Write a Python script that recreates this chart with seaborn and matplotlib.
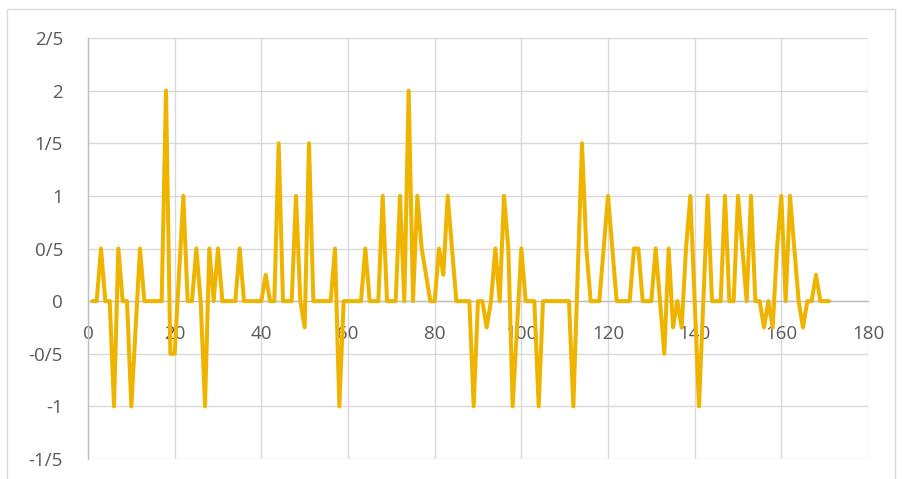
import matplotlib
matplotlib.use("Agg")
import matplotlib.pyplot as plt
import matplotlib.patches as patches
from matplotlib.ticker import FuncFormatter, MultipleLocator
import seaborn as sns
import pandas as pd

# series values, one per index 1..171
values = [
    0, 0, 0.5, 0, 0, -1, 0.5, 0, 0, -1,
    -0.25, 0.5, 0, 0, 0, 0, 0, 2, -0.5, -0.5,
    0.25, 1, 0, 0, 0.5, 0, -1, 0.5, 0, 0.5,
    0, 0, 0, 0, 0.5, 0, 0, 0, 0, 0,
    0.25, 0, 0, 1.5, 0, 0, 0, 1, 0, -0.25,
    1.5, 0, 0, 0, 0, 0, 0.5, -1, 0, 0,
    0, 0, 0, 0.5, 0, 0, 0, 1, 0, 0,
    0, 1, 0, 2, 0, 1, 0.5, 0.25, 0, 0,
    0.5, 0.25, 1, 0.5, 0, 0, 0, 0, -1, 0,
    0, -0.25, 0, 0.5, 0, 1, 0.5, -1, -0.25, 0.5,
    0, 0, 0, -1, 0, 0, 0, 0, 0, 0,
    0, -1, 0.25, 1.5, 0.5, 0, 0, 0, 0.5, 1,
    0.5, 0, 0, 0, 0, 0.5, 0.5, 0, 0, 0,
    0.5, 0, -0.5, 0.5, -0.25, 0, -0.25, 0.5, 1, 0,
    -1, 0, 1, 0, 0, 0, 1, 0, 0, 1,
    0.5, 0, 1, 0, 0, -0.25, 0, -0.25, 0.5, 1,
    0, 1, 0.5, 0, -0.25, 0, 0, 0.25, 0, 0,
    0,
]
index = list(range(1, len(values) + 1))

x_ticks = [0, 20, 40, 60, 80, 100, 120, 140, 160, 180]
y_min, y_max = -1.5, 2.5

df = pd.DataFrame({"index": index, "value": values})

sns.set_style("white")
plt.rcParams["font.family"] = ["Open Sans", "DejaVu Sans"]

fig = plt.figure(figsize=(9.02, 4.79), dpi=100)
ax = fig.add_axes([88 / 902, 1 - 459 / 479, 780 / 902, 421 / 479])

sns.lineplot(data=df, x="index", y="value", ax=ax, color="#EEB400",
             linewidth=2.9, zorder=3)

ax.set_xlim(0, 180)
ax.set_ylim(y_min, y_max)
ax.set_xticks(x_ticks)
ax.yaxis.set_major_locator(MultipleLocator(0.5))


def persian_decimal(v, pos):
    # Persian style decimal separator: 0.5 -> 0/5
    if abs(v - round(v)) < 1e-9:
        return f"{int(round(v))}"
    return f"{v:.1f}".replace(".", "/")


ax.yaxis.set_major_formatter(FuncFormatter(persian_decimal))

ax.grid(True, color="#D9D9D9", linewidth=1.0)
ax.set_axisbelow(True)

for side in ["top", "right"]:
    ax.spines[side].set_visible(False)
ax.spines["bottom"].set_position(("data", 0))
ax.spines["bottom"].set_color("#BFBFBF")
ax.spines["bottom"].set_linewidth(1.0)
ax.spines["bottom"].set_zorder(2)
ax.spines["left"].set_color("#BFBFBF")
ax.spines["left"].set_linewidth(1.0)

ax.tick_params(axis="both", length=0, labelsize=13.5, colors="#595959")
ax.tick_params(axis="x", pad=17)
ax.tick_params(axis="y", pad=18)
ax.set_xlabel("")
ax.set_ylabel("")

# chart area border
fig.patches.append(patches.Rectangle(
    (7 / 902, -0.02), 888 / 902, 1.02 - 9 / 479,
    transform=fig.transFigure, fill=False, edgecolor="#D9D9D9",
    linewidth=1.0))

fig.savefig("out.png", dpi=100, facecolor="white")
